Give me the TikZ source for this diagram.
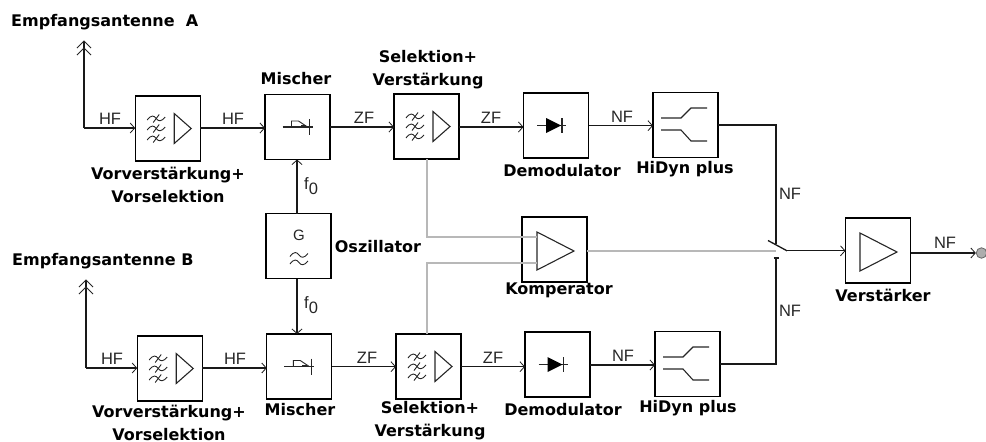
\documentclass[tikz,border=0pt]{standalone}
\usepackage{fontspec}
\setmainfont{Liberation Sans}
\newfontfamily\lblfont{DejaVu Sans}[BoldFont={DejaVu Sans Bold}]
\usetikzlibrary{arrows.meta}
\tikzset{
 x=1pt,y=-1pt,
 box/.style={draw=black,line width=1.3pt,minimum width=65pt,minimum height=65pt,inner sep=0pt,outer sep=0pt},
 wire/.style={line width=1.3pt,draw=black!90},
 sig/.style={wire,-{Straight Barb[length=4.5pt,width=10pt,line width=.8pt]}},
 ctl/.style={line width=1.2pt,draw=black!28},
 icon/.style={line width=.9pt,draw=black!85},
 title/.style={font=\lblfont\bfseries\fontsize{16}{23}\selectfont,align=center,inner sep=0pt,text=black},
 small/.style={font=\fontsize{16.5}{18}\selectfont,inner sep=0pt,text=black!85},
 pics/tild/.style={code={
   \draw[icon] (-9,1.5) .. controls (-5,-4) and (-2,-3) .. (0,0) .. controls (2,3) and (5,3.5) .. (9,-1.5);
 }},
 pics/tildx/.style={code={
   \draw[icon] (-9,1.5) .. controls (-5,-4) and (-2,-3) .. (0,0) .. controls (2,3) and (5,3.5) .. (9,-1.5);
   \draw[icon] (-3,4) -- (3,-4);
 }},
 pics/filtamp/.style={code={
   \pic at (-11.5,-10) {tildx};
   \pic at (-11.5,0) {tildx};
   \pic at (-11.5,10) {tildx};
   \draw[icon,line width=1.1pt] (6.5,-15) -- (23.5,0) -- (6.5,15) -- cycle;
 }},
 pics/mixsym/.style={code={
   \draw[icon,line width=1.1pt] (-15,0) -- (15,0);
   \draw[icon,line width=1.2pt] (12,-8) -- (12,8);
   \draw[icon] (-6,0) -- (-6,-6) -- (1,-6) -- (10,0);
   \fill[black!85] (3,-2) rectangle (8,0);
 }},
 pics/diodesym/.style={code={
   \draw[icon,line width=1.1pt] (-19,0) -- (10,0);
   \fill[black] (-10,-7.5) -- (5,0) -- (-10,7.5) -- cycle;
   \draw[icon,line width=1.2pt] (6,-7.5) -- (6,7.5);
 }},
 pics/hisym/.style={code={
   \draw[icon,line width=1.1pt] (-24.5,-7) -- (-4.5,-7) -- (5.5,-17) -- (21.5,-17);
   \draw[icon,line width=1.1pt] (-24.5,5) -- (-4.5,5) -- (5.5,16) -- (21.5,16);
 }},
}
\begin{document}
\begin{tikzpicture}
\useasboundingbox (0,0) rectangle (986,442);
% boxes
\node[box] (va) at (167.7,128.5) {};
\node[box] (ma) at (297.5,127) {};
\node[box] (sa) at (426.5,126.5) {};
\node[box] (da) at (556,125.5) {};
\node[box] (ha) at (685.5,125) {};
\node[box] (osc) at (298.5,246) {};
\node[box] (komp) at (554.5,249.5) {};
\node[box] (ver) at (878,250.5) {};
\node[box] (vb) at (169.7,368.5) {};
\node[box] (mb) at (299.3,366.5) {};
\node[box] (sb) at (428.5,366.5) {};
\node[box] (db) at (557.5,364.5) {};
\node[box] (hb) at (687.5,364) {};
% symbols
\pic at (va) {filtamp};
\pic at (sa) {filtamp};
\pic at (vb) {filtamp};
\pic at (sb) {filtamp};
\pic at (ma) {mixsym};
\pic at (mb) {mixsym};
\pic at (da) {diodesym};
\pic at (db) {diodesym};
\pic at (ha) {hisym};
\pic at (hb) {hisym};
\draw[icon,line width=1.1pt] (537,232) -- (574,251) -- (537,270) -- cycle;
\draw[icon,line width=1.1pt] (860,233) -- (897,252) -- (860,271) -- cycle;
\node[font=\fontsize{15}{15}\selectfont,inner sep=0pt,text=black!85] (g) at (299,235) {G};
\pic at (299,255) {tild};
\pic at (299,262.5) {tild};
% helper coordinates
\coordinate (anta) at (84,41);
\coordinate (antb) at (86,280);
\coordinate (cornA) at (84,128);
\coordinate (cornB) at (86,368);
\coordinate (sw1) at (776,244);
\coordinate (sw2) at (776,258);
\coordinate (swa) at (768,240.5);
\coordinate (swb) at (787,250.8);
\coordinate (lvl1) at (0,127);
\coordinate (lvl2) at (0,125.7);
\coordinate (lvl3) at (0,366.7);
\coordinate (lvl4) at (0,365);
\coordinate (cA) at (427,237);
\coordinate (cB) at (427,263);
\coordinate (kin) at (537,237);
\coordinate (kin2) at (537,263);
\coordinate (kout) at (776,251);
\coordinate (x297) at (297,0);
\node[circle,draw=black!60,fill=black!32,line width=.8pt,minimum size=10.5pt,inner sep=0pt] (out) at (981.5,253) {};
% control lines
\draw[ctl] (cA |- sa.south) -- (cA) -- (kin);
\draw[ctl] (cB |- sb.north) -- (cB) -- (kin2);
\draw[ctl] (komp.east |- kout) -- (kout);
% connectors
\draw[wire] (anta) -- (cornA);
\draw[sig] (cornA) -- (va.west |- cornA);
\foreach \d in {0,7}{\draw[icon,line width=1pt] (77,48+\d) -- (84,41+\d) -- (91,48+\d);}
\draw[sig] (va.east |- cornA) -- (ma.west |- cornA);
\draw[sig] (ma.east |- lvl1) -- (sa.west |- lvl1);
\draw[sig] (sa.east |- lvl1) -- (da.west |- lvl1);
\draw[sig] (da.east |- lvl2) -- (ha.west |- lvl2);
\draw[wire] (ha.east) -- (sw1 |- ha.east) -- (sw1);
\draw[wire] (antb) -- (cornB);
\draw[sig] (cornB) -- (vb.west |- cornB);
\foreach \d in {0,7}{\draw[icon,line width=1pt] (79,287+\d) -- (86,280+\d) -- (93,287+\d);}
\draw[sig] (vb.east |- cornB) -- (mb.west |- cornB);
\draw[sig] (mb.east |- lvl3) -- (sb.west |- lvl3);
\draw[sig] (sb.east |- lvl3) -- (db.west |- lvl3);
\draw[sig] (db.east |- lvl4) -- (hb.west |- lvl4);
\draw[wire] (hb.east) -- (sw2 |- hb.east) -- (sw2);
\draw[wire] (773.5,258) -- (778.5,258);
\draw[sig] (x297 |- osc.north) -- (x297 |- ma.south);
\draw[sig] (x297 |- osc.south) -- (x297 |- mb.north);
\draw[wire] (swa) -- (swb);
\draw[sig] (swb) -- (ver.west |- swb);
\draw[sig] (ver.east |- out) -- (out.west);
% small labels
\foreach \n/\x/\y/\t in {h1/110/119/HF,h2/233/119/HF,z1/364/118/ZF,z2/491/118/ZF,n1/622/117/NF,nv1/790/194/NF,no/945/243/NF,nv2/790/311/NF,h3/112/359/HF,h4/235/359/HF,z3/367/358/ZF,z4/493/358/ZF,n2/623/356/NF}
  \node[small] (\n) at (\x,\y) {\t};
\node[small,anchor=west] (f1) at (304,186) {f\raisebox{-5pt}{0}};
\node[small,anchor=west] (f2) at (304,305) {f\raisebox{-5pt}{0}};
% titles
\node[title,anchor=west] (ea) at (11,22) {Empfangsantenne\ \ A};
\node[title,anchor=west] (eb) at (12,261) {Empfangsantenne B};
\node[title] (t1) at (168,185) {Vorverstärkung+\\Vorselektion};
\node[title] (t2) at (296,79) {Mischer};
\node[title] (t3) at (428,69.5) {Selektion+\\Verstärkung};
\node[title] (t4) at (562,171) {Demodulator};
\node[title] (t5) at (685,169) {HiDyn plus};
\node[title] (t6) at (378,247) {Oszillator};
\node[title] (t7) at (559,290) {Komperator};
\node[title] (t8) at (883,295) {Verstärker};
\node[title] (t9) at (169,422.5) {Vorverstärkung+\\Vorselektion};
\node[title] (t10) at (300,410) {Mischer};
\node[title] (t11) at (430,421) {Selektion+\\Verstärkung};
\node[title] (t12) at (563,410) {Demodulator};
\node[title] (t13) at (688,408) {HiDyn plus};
\end{tikzpicture}
\end{document}
